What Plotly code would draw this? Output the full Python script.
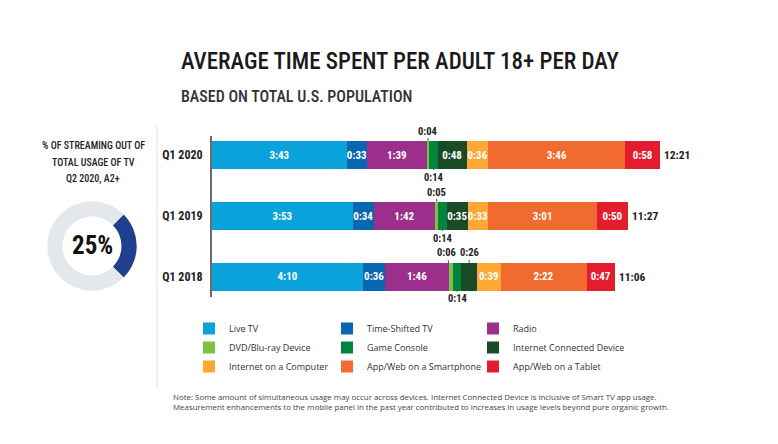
import plotly.graph_objects as go

# ---------------- data ----------------
categories = ["Q1 2020", "Q1 2019", "Q1 2018"]

series_names = [
    "Live TV", "Time-Shifted TV", "Radio",
    "DVD/Blu-ray Device", "Game Console", "Internet Connected Device",
    "Internet on a Computer", "App/Web on a Smartphone", "App/Web on a Tablet",
]

# minutes per day
live_tv = [223, 233, 250]
time_shifted_tv = [33, 34, 36]
radio = [99, 102, 106]
dvd_bluray = [4, 5, 6]
game_console = [14, 14, 14]
internet_connected = [48, 35, 26]
internet_computer = [36, 33, 39]
smartphone = [226, 181, 142]
tablet = [58, 50, 47]

# where each value label sits: inside the bar, above it or below it
live_tv_pos = ["in", "in", "in"]
time_shifted_pos = ["in", "in", "in"]
radio_pos = ["in", "in", "in"]
dvd_pos = ["above", "above", "above"]
game_pos = ["below", "below", "below"]
icd_pos = ["in", "in", "above"]
computer_pos = ["in", "in", "in"]
smartphone_pos = ["in", "in", "in"]
tablet_pos = ["in", "in", "in"]

donut_labels = ["Streaming", "Other"]
donut_values = [25, 75]
donut_center_text = "25%"
donut_heading = ["% OF STREAMING OUT OF", "TOTAL USAGE OF TV", "Q2 2020, A2+"]

title_text = "AVERAGE TIME SPENT PER ADULT 18+ PER DAY"
subtitle_text = "BASED ON TOTAL U.S. POPULATION"
note_lines = [
    "Note: Some amount of simultaneous usage may occur across devices. Internet Connected Device is inclusive of Smart TV app usage.",
    "Measurement enhancements to the mobile panel in the past year contributed to increases in usage levels beyond pure organic growth.",
]

# ---------------- styles ----------------
series_values = [live_tv, time_shifted_tv, radio, dvd_bluray, game_console,
                 internet_connected, internet_computer, smartphone, tablet]
series_pos = [live_tv_pos, time_shifted_pos, radio_pos, dvd_pos, game_pos,
              icd_pos, computer_pos, smartphone_pos, tablet_pos]
colors = ["#0aa2db", "#0867b1", "#9c2f8b", "#7cc142", "#03843e",
          "#1a4b27", "#fca833", "#f16a30", "#e31c2e"]
donut_colors = ["#1f3f8f", "#e4e8ed"]

NARROW = "Roboto Condensed, Roboto, sans-serif"
SANS = "Open Sans, Noto Sans, sans-serif"

W, H = 778, 444
OFF = 8  # page body margin


def fx(x):
    return (x - OFF) / W


def fy(y):
    return 1 - (y - OFF) / H


px_per_min = 0.605
x_left, x_right = 212, 740
y_top, y_bot = 135.5, 296.5


def fmt(m):
    return f"{m // 60}:{m % 60:02d}"


fig = go.Figure()

legend_ids = ["legend", "legend2", "legend3"]
for k, (name, vals, pos, col) in enumerate(zip(series_names, series_values, series_pos, colors)):
    fig.add_trace(go.Bar(
        name=name, y=categories, x=vals, orientation="h",
        marker=dict(color=col, line=dict(width=0)),
        text=[fmt(v) if p == "in" else "" for v, p in zip(vals, pos)],
        textposition="inside", insidetextanchor="middle", textangle=0,
        textfont=dict(family=NARROW, size=11, color="white", weight="bold"),
        width=0.46, hoverinfo="skip", cliponaxis=False,
        legend=legend_ids[k % 3],
    ))

annotations = []

# outside labels with leader lines
cum = [0, 0, 0]
for vals, pos in zip(series_values, series_pos):
    for i, (v, p) in enumerate(zip(vals, pos)):
        if p != "in":
            ax = 0
            if p == "above" and i == 2 and vals is dvd_bluray:
                ax = -4
            annotations.append(dict(
                x=cum[i] + v / 2, y=categories[i], xref="x", yref="y",
                text=fmt(v), showarrow=True, arrowhead=0, arrowwidth=1,
                arrowcolor="#555555", ax=ax, ay=-24 if p == "above" else 22,
                standoff=14, borderpad=0,
                font=dict(family=NARROW, size=10.5, color="#222222", weight="bold"),
            ))
    cum = [c + v for c, v in zip(cum, vals)]

# totals at the end of each bar
for i, cat in enumerate(categories):
    annotations.append(dict(
        x=cum[i], y=cat, xref="x", yref="y", text=fmt(cum[i]),
        showarrow=False, xanchor="left", xshift=2,
        font=dict(family=NARROW, size=11.5, color="#222222", weight="bold"),
    ))

# titles
annotations.append(dict(
    x=fx(179), y=fy(62), xref="paper", yref="paper", text=title_text,
    showarrow=False, xanchor="left", yanchor="middle",
    font=dict(family=NARROW, size=23, color="#1a1a1a", weight=500),
))
annotations.append(dict(
    x=fx(179), y=fy(96.5), xref="paper", yref="paper", text=subtitle_text,
    showarrow=False, xanchor="left", yanchor="middle",
    font=dict(family=NARROW, size=16, color="#333333", weight=500),
))

# donut heading and centre
for k, line in enumerate(donut_heading):
    annotations.append(dict(
        x=fx(93), y=fy(145 + 17 * k), xref="paper", yref="paper",
        text=line, showarrow=False, xanchor="center", yanchor="middle",
        font=dict(family=NARROW, size=10, color="#222222", weight=500),
    ))
annotations.append(dict(
    x=fx(92), y=fy(246), xref="paper", yref="paper", text=donut_center_text,
    showarrow=False, xanchor="center", yanchor="middle",
    font=dict(family=NARROW, size=25, color="#111111", weight="bold"),
))

# note
annotations.append(dict(
    x=fx(172), y=fy(401.5), xref="paper", yref="paper",
    text="<br>".join(note_lines), showarrow=False, xanchor="left",
    yanchor="middle", align="left", borderpad=0,
    font=dict(family=SANS, size=7.9, color="#444444"),
))

fig.add_trace(go.Pie(
    labels=donut_labels, values=donut_values, hole=0.66, sort=False,
    direction="clockwise", rotation=45, textinfo="none",
    marker=dict(colors=donut_colors, line=dict(width=0)),
    showlegend=False, hoverinfo="skip",
    domain=dict(x=[fx(92 - 44.7), fx(92 + 44.7)],
                y=[fy(246 + 44.7), fy(246 - 44.7)]),
))

legend_common = dict(orientation="v", y=fy(314), yanchor="top",
                     font=dict(family=SANS, size=9, color="#333333"),
                     traceorder="normal", bgcolor="rgba(0,0,0,0)",
                     tracegroupgap=0)
legend_x = [189, 327, 473]

fig.update_layout(
    width=W, height=H, margin=dict(l=0, r=0, t=0, b=0, autoexpand=False),
    paper_bgcolor="white", plot_bgcolor="white",
    barmode="stack",
    uniformtext=dict(minsize=11, mode="show"),
    xaxis=dict(visible=False, domain=[fx(x_left), fx(x_right)],
               range=[0, (x_right - x_left) / px_per_min]),
    yaxis=dict(type="category", range=[2.32, -0.32],
               domain=[fy(y_bot), fy(y_top)],
               showline=True, linecolor="#6b6b6b", linewidth=2,
               showgrid=False, zeroline=False, ticks="", ticklabelstandoff=5,
               tickfont=dict(family=NARROW, size=12, color="#222222", weight="bold")),
    legend=dict(x=fx(legend_x[0]), **legend_common),
    legend2=dict(x=fx(legend_x[1]), **legend_common),
    legend3=dict(x=fx(legend_x[2]), **legend_common),
    shapes=[dict(type="line", xref="paper", yref="paper",
                 x0=fx(157), x1=fx(157), y0=fy(388), y1=fy(125),
                 line=dict(color="#e6e6e6", width=1))],
    annotations=annotations,
    showlegend=True,
)

fig.write_html("out.html")
